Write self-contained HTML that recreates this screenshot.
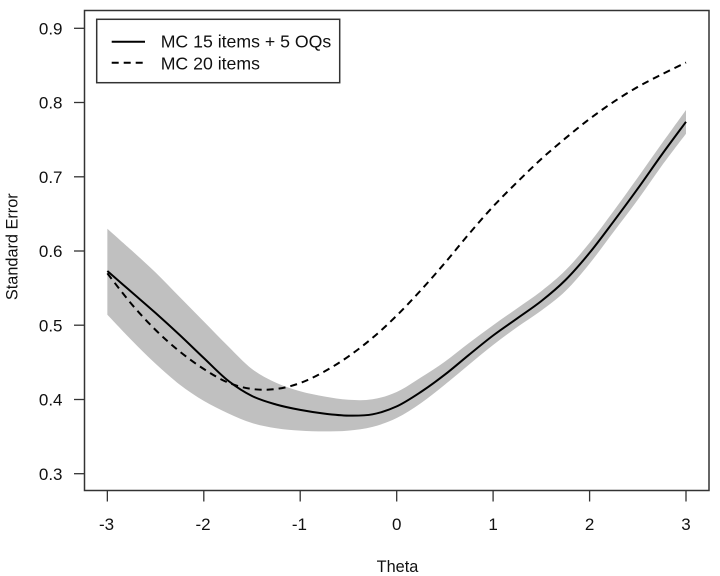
<!DOCTYPE html>
<html><head><meta charset="utf-8"><style>
html,body{margin:0;padding:0;background:#fff;}
svg{display:block;}
text{font-family:"Liberation Sans",Arial,sans-serif;fill:#111;}
</style></head><body>
<svg width="720" height="576" viewBox="0 0 720 576" xmlns="http://www.w3.org/2000/svg">
<rect width="720" height="576" fill="#fff"/>
<path fill="#c0c0c0" stroke="none" d="M107.35,228.7 C111.38,232.3 123.47,243.0 131.5,250.3 S147.57,264.72 155.6,272.5 S171.67,288.83 179.7,297.0 S195.77,313.33 203.8,321.5 S219.87,338.08 227.9,346.0 S243.97,362.87 252.0,369.0 S268.07,379.08 276.1,382.8 S292.17,389.02 300.2,391.3 S316.37,395.08 324.4,396.5 S340.47,399.33 348.5,399.8 S364.57,400.6 372.6,399.3 S388.67,395.63 396.7,392.0 S412.77,382.57 420.8,377.5 S436.87,367.35 444.9,361.6 S460.97,349.07 469.0,343.0 S485.07,331.0 493.1,325.2 S509.27,313.88 517.3,308.2 S533.37,297.42 541.4,291.1 S557.47,278.35 565.5,270.3 S581.57,252.7 589.6,242.8 S605.67,221.78 613.7,210.9 S629.77,188.75 637.8,177.5 S653.87,154.65 661.9,143.4 S682.0,115.57 686.0,110.0 L686.0,133.7 C681.98,139.02 669.93,154.58 661.9,165.6 S645.83,188.78 637.8,199.8 S621.73,221.07 613.7,231.7 S597.63,253.72 589.6,263.6 S573.53,283.18 565.5,291.0 S549.43,304.5 541.4,310.5 S525.33,321.25 517.3,327.0 S501.13,338.73 493.1,345.0 S477.03,358.0 469.0,364.6 S452.93,378.17 444.9,384.6 S428.83,397.63 420.8,403.2 S404.73,414.05 396.7,418.0 S380.63,424.8 372.6,426.9 S356.53,429.85 348.5,430.6 S332.43,431.4 324.4,431.4 S308.23,431.13 300.2,430.6 S284.13,429.47 276.1,428.2 S260.03,425.5 252.0,423.0 S235.93,416.88 227.9,413.2 S211.83,405.67 203.8,400.9 S187.73,390.78 179.7,384.6 S163.63,371.22 155.6,363.8 S139.53,348.27 131.5,340.1 S111.37,319.02 107.35,314.8 Z"/>
<path fill="none" stroke="#000" stroke-width="2" stroke-dasharray="7 5" d="M107.35,273.3 C111.38,278.42 123.47,294.55 131.5,304.0 S147.57,322.08 155.6,330.0 S171.67,345.0 179.7,351.5 S195.77,363.83 203.8,369.0 S219.87,379.17 227.9,382.5 S243.97,387.92 252.0,389.0 S268.07,390.0 276.1,389.0 S292.17,385.92 300.2,383.0 S316.37,375.93 324.4,371.5 S340.47,362.02 348.5,356.4 S364.57,344.6 372.6,337.8 S388.67,323.52 396.7,315.6 S412.77,299.08 420.8,290.3 S436.87,272.3 444.9,262.9 S460.97,243.3 469.0,233.9 S485.07,215.15 493.1,206.5 S509.27,189.93 517.3,182.0 S533.37,166.2 541.4,158.9 S557.47,144.87 565.5,138.2 S581.57,124.97 589.6,118.9 S605.67,107.13 613.7,101.8 S629.77,91.48 637.8,86.9 S653.87,78.37 661.9,74.3 S682.0,64.47 686.0,62.5"/>
<path fill="none" stroke="#000" stroke-width="2" d="M107.35,271.0 C111.38,274.5 123.47,285.0 131.5,292.0 S147.57,305.83 155.6,313.0 S171.67,327.5 179.7,335.0 S195.77,350.42 203.8,358.0 S219.87,374.17 227.9,380.5 S243.97,392.0 252.0,396.0 S268.07,402.18 276.1,404.5 S292.17,408.38 300.2,409.9 S316.37,412.65 324.4,413.6 S340.47,415.48 348.5,415.6 S364.57,415.83 372.6,414.3 S388.67,410.12 396.7,406.4 S412.77,397.3 420.8,392.0 S436.87,380.8 444.9,374.6 S460.97,361.32 469.0,354.8 S485.07,341.58 493.1,335.5 S509.27,324.05 517.3,318.3 S533.37,307.38 541.4,301.0 S557.47,288.03 565.5,280.0 S581.57,262.58 589.6,252.8 S605.67,232.0 613.7,221.3 S629.77,199.73 637.8,188.6 S653.87,165.63 661.9,154.5 S682.0,127.25 686.0,121.8"/>
<rect x="84.5" y="10.5" width="624.5" height="480" fill="none" stroke="#333" stroke-width="1.5"/>
<g stroke="#333" stroke-width="1.3">
<line x1="74" y1="28.3" x2="84.5" y2="28.3"/>
<line x1="74" y1="102.5" x2="84.5" y2="102.5"/>
<line x1="74" y1="176.8" x2="84.5" y2="176.8"/>
<line x1="74" y1="251.0" x2="84.5" y2="251.0"/>
<line x1="74" y1="325.2" x2="84.5" y2="325.2"/>
<line x1="74" y1="399.5" x2="84.5" y2="399.5"/>
<line x1="74" y1="473.7" x2="84.5" y2="473.7"/>
<line x1="107.35" y1="490.5" x2="107.35" y2="501.5"/>
<line x1="203.8" y1="490.5" x2="203.8" y2="501.5"/>
<line x1="300.2" y1="490.5" x2="300.2" y2="501.5"/>
<line x1="396.7" y1="490.5" x2="396.7" y2="501.5"/>
<line x1="493.1" y1="490.5" x2="493.1" y2="501.5"/>
<line x1="589.6" y1="490.5" x2="589.6" y2="501.5"/>
<line x1="686.0" y1="490.5" x2="686.0" y2="501.5"/>
</g>
<g font-size="17" text-anchor="end">
<text x="62.5" y="34.5">0.9</text>
<text x="62.5" y="108.7">0.8</text>
<text x="62.5" y="183.0">0.7</text>
<text x="62.5" y="257.2">0.6</text>
<text x="62.5" y="331.4">0.5</text>
<text x="62.5" y="405.7">0.4</text>
<text x="62.5" y="479.9">0.3</text>
</g>
<g font-size="17" text-anchor="middle">
<text x="106.5" y="530">-3</text>
<text x="203" y="530">-2</text>
<text x="299.4" y="530">-1</text>
<text x="396.7" y="530">0</text>
<text x="493.1" y="530">1</text>
<text x="589.6" y="530">2</text>
<text x="686.0" y="530">3</text>
</g>
<text x="397.5" y="572" font-size="16.3" text-anchor="middle">Theta</text>
<text transform="translate(17.5,246.7) rotate(-90)" font-size="16.3" text-anchor="middle">Standard Error</text>
<rect x="96.7" y="19.3" width="243" height="63.4" fill="#fff" stroke="#333" stroke-width="1.5"/>
<line x1="111.7" y1="41.7" x2="145" y2="41.7" stroke="#000" stroke-width="2"/>
<line x1="111.7" y1="62.7" x2="145" y2="62.7" stroke="#000" stroke-width="2" stroke-dasharray="7 5"/>
<text x="160.7" y="47.7" font-size="17.7">MC 15 items + 5 OQs</text>
<text x="160.7" y="69.3" font-size="17.7">MC 20 items</text>
</svg>
</body></html>
